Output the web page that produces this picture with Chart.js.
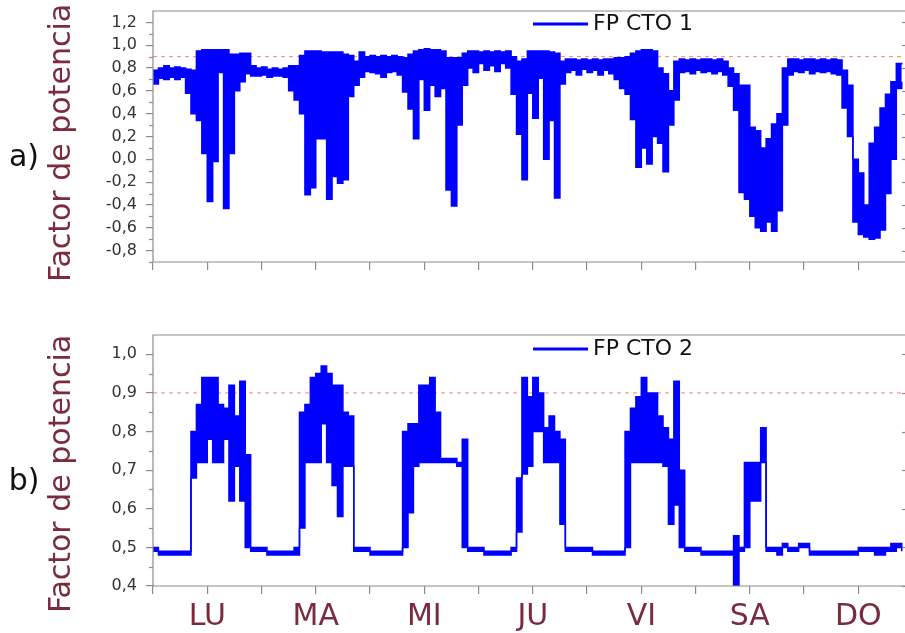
<!DOCTYPE html>
<html>
<head>
<meta charset="utf-8">
<script src="https://cdn.jsdelivr.net/npm/chart.js@4.4.1/dist/chart.umd.min.js"></script>
<style>
  body { margin: 0; background: #fff; width: 905px; height: 633px; overflow: hidden; position: relative; }
  .panel { position: absolute; left: 0; width: 905px; }
  #panelA { top: 0; height: 300px; }
  #panelB { top: 320px; height: 313px; }
</style>
</head>
<body>
<div class="panel" id="panelA"><canvas id="chartA"></canvas></div>
<div class="panel" id="panelB"><canvas id="chartB"></canvas></div>
<script>
// one week of power factor, max and min inside every 0.05 day (72 min)
const stepDays = 0.05;

const cto1Hi = [
  0.78, 0.80, 0.82, 0.80, 0.81, 0.80, 0.79, 0.78, 0.95, 0.96,
  0.96, 0.96, 0.96, 0.96, 0.92, 0.92, 0.93, 0.93, 0.82, 0.80,
  0.81, 0.79, 0.80, 0.79, 0.80, 0.82, 0.82, 0.91, 0.95, 0.95,
  0.95, 0.94, 0.94, 0.94, 0.94, 0.92, 0.91, 0.86, 0.94, 0.90,
  0.91, 0.90, 0.91, 0.90, 0.91, 0.90, 0.89, 0.92, 0.95, 0.96,
  0.97, 0.96, 0.96, 0.95, 0.89, 0.89, 0.89, 0.93, 0.95, 0.95,
  0.94, 0.95, 0.94, 0.95, 0.94, 0.95, 0.90, 0.86, 0.88, 0.95,
  0.95, 0.95, 0.95, 0.94, 0.93, 0.86, 0.88, 0.88, 0.87, 0.88,
  0.87, 0.88, 0.87, 0.88, 0.88, 0.89, 0.89, 0.90, 0.93, 0.95,
  0.96, 0.96, 0.95, 0.80, 0.75, 0.60, 0.86, 0.88, 0.87, 0.88,
  0.87, 0.88, 0.88, 0.87, 0.88, 0.86, 0.80, 0.75, 0.65, 0.65,
  0.28, 0.25, 0.10, 0.18, 0.31, 0.40, 0.80, 0.88, 0.88, 0.87,
  0.88, 0.88, 0.87, 0.88, 0.87, 0.88, 0.87, 0.78, 0.65, 0.00,
  -0.12, -0.40, 0.14, 0.28, 0.45, 0.57, 0.68, 0.84, 0.83
];
const cto1Lo = [
  0.66, 0.71, 0.70, 0.72, 0.70, 0.72, 0.58, 0.40, 0.34, 0.05,
  -0.37, -0.02, 0.76, -0.43, 0.05, 0.60, 0.68, 0.75, 0.73, 0.73,
  0.74, 0.72, 0.73, 0.73, 0.72, 0.60, 0.52, 0.40, -0.31, -0.25,
  0.18, 0.18, -0.35, -0.15, -0.21, -0.18, 0.55, 0.65, 0.72, 0.77,
  0.76, 0.75, 0.72, 0.76, 0.77, 0.74, 0.59, 0.44, 0.18, 0.70,
  0.43, 0.65, 0.55, 0.62, -0.27, -0.41, 0.30, 0.65, 0.80, 0.76,
  0.84, 0.78, 0.82, 0.77, 0.84, 0.80, 0.57, 0.22, -0.18, 0.58,
  0.36, 0.71, 0.00, 0.34, -0.34, 0.66, 0.76, 0.78, 0.74, 0.79,
  0.76, 0.78, 0.74, 0.78, 0.75, 0.70, 0.62, 0.57, 0.35, -0.07,
  0.10, -0.04, 0.20, 0.14, -0.11, 0.30, 0.52, 0.76, 0.77, 0.75,
  0.78, 0.76, 0.77, 0.75, 0.77, 0.74, 0.64, 0.43, -0.29, -0.35,
  -0.50, -0.60, -0.63, -0.55, -0.63, -0.45, 0.30, 0.74, 0.77, 0.76,
  0.78, 0.75, 0.77, 0.76, 0.77, 0.75, 0.74, 0.45, 0.20, -0.55,
  -0.66, -0.68, -0.70, -0.69, -0.62, -0.30, 0.00, 0.62, 0.68
];

const cto2Hi = [
  0.50, 0.49, 0.49, 0.49, 0.49, 0.49, 0.49, 0.80, 0.87, 0.94,
  0.94, 0.94, 0.87, 0.86, 0.92, 0.84, 0.93, 0.74, 0.50, 0.50,
  0.50, 0.49, 0.49, 0.49, 0.49, 0.49, 0.50, 0.85, 0.87, 0.94,
  0.95, 0.97, 0.95, 0.92, 0.92, 0.85, 0.84, 0.50, 0.50, 0.50,
  0.49, 0.49, 0.49, 0.49, 0.49, 0.49, 0.80, 0.82, 0.82, 0.92,
  0.92, 0.94, 0.85, 0.73, 0.73, 0.73, 0.72, 0.78, 0.50, 0.50,
  0.50, 0.49, 0.49, 0.49, 0.49, 0.49, 0.50, 0.68, 0.94, 0.89,
  0.94, 0.90, 0.81, 0.84, 0.80, 0.78, 0.50, 0.50, 0.50, 0.50,
  0.50, 0.49, 0.49, 0.49, 0.49, 0.49, 0.49, 0.80, 0.86, 0.89,
  0.94, 0.90, 0.90, 0.84, 0.81, 0.78, 0.93, 0.70, 0.50, 0.50,
  0.50, 0.49, 0.49, 0.49, 0.49, 0.49, 0.49, 0.53, 0.50, 0.72,
  0.72, 0.72, 0.81, 0.50, 0.50, 0.50, 0.51, 0.50, 0.50, 0.51,
  0.51, 0.49, 0.49, 0.49, 0.49, 0.49, 0.49, 0.49, 0.49, 0.49,
  0.50, 0.50, 0.50, 0.50, 0.50, 0.50, 0.51, 0.51, 0.50
];
const cto2Lo = [
  0.49, 0.48, 0.48, 0.48, 0.48, 0.48, 0.48, 0.68, 0.72, 0.72,
  0.78, 0.72, 0.72, 0.78, 0.62, 0.71, 0.62, 0.50, 0.49, 0.49,
  0.49, 0.48, 0.48, 0.48, 0.48, 0.48, 0.48, 0.55, 0.72, 0.72,
  0.72, 0.82, 0.72, 0.66, 0.58, 0.71, 0.71, 0.49, 0.49, 0.49,
  0.48, 0.48, 0.48, 0.48, 0.48, 0.48, 0.50, 0.59, 0.71, 0.72,
  0.72, 0.72, 0.72, 0.72, 0.72, 0.72, 0.71, 0.50, 0.49, 0.49,
  0.49, 0.48, 0.48, 0.48, 0.48, 0.48, 0.49, 0.54, 0.69, 0.71,
  0.80, 0.80, 0.72, 0.72, 0.72, 0.56, 0.49, 0.49, 0.49, 0.49,
  0.49, 0.48, 0.48, 0.48, 0.48, 0.48, 0.48, 0.50, 0.72, 0.72,
  0.72, 0.72, 0.72, 0.72, 0.71, 0.56, 0.61, 0.50, 0.49, 0.49,
  0.49, 0.48, 0.48, 0.48, 0.48, 0.48, 0.48, 0.40, 0.49, 0.50,
  0.62, 0.62, 0.72, 0.49, 0.49, 0.48, 0.50, 0.49, 0.49, 0.50,
  0.50, 0.48, 0.48, 0.48, 0.48, 0.48, 0.48, 0.48, 0.48, 0.48,
  0.49, 0.49, 0.49, 0.48, 0.48, 0.49, 0.49, 0.50, 0.49
];

const dayLabels = ["LU", "MA", "MI", "JU", "VI", "SA", "DO"];
const xTicks = [0, 0.5, 1, 1.5, 2, 2.5, 3, 3.5, 4, 4.5, 5, 5.5, 6, 6.5];
const yTicksA = [-0.8, -0.6, -0.4, -0.2, 0, 0.2, 0.4, 0.6, 0.8, 1.0, 1.2];
const yMinorA = [-0.9, -0.7, -0.5, -0.3, -0.1, 0.1, 0.3, 0.5, 0.7, 0.9, 1.1];
const yTicksB = [0.4, 0.5, 0.6, 0.7, 0.8, 0.9, 1.0];
const yMinorB = [0.45, 0.55, 0.65, 0.75, 0.85, 0.95];
const fpTarget = 0.9;

const blue = "#0000ff";
const axisGray = "#8c8c8c";
const maroon = "#7a2c3c";
const font = "'DejaVu Sans', sans-serif";

const toPoints = (vals) => vals.map((v, i) => ({ x: i * stepDays, y: v }));
const fmt = (v) => v.toFixed(1).replace(".", ",");

const panelDecor = {
  id: "panelDecor",
  afterDraw(chart, args, opts) {
    const { ctx, chartArea: a } = chart;
    const y = chart.scales.y;
    ctx.save();
    // frame: the right edge sits just past the canvas
    ctx.strokeStyle = axisGray;
    ctx.lineWidth = 1.2;
    ctx.beginPath();
    ctx.moveTo(a.right, a.top);
    ctx.lineTo(a.left, a.top);
    ctx.lineTo(a.left, a.bottom);
    ctx.lineTo(a.right, a.bottom);
    ctx.stroke();
    opts.minor.forEach((v) => {
      const py = Math.round(y.getPixelForValue(v)) + 0.5;
      ctx.beginPath();
      ctx.moveTo(a.left - 4, py);
      ctx.lineTo(a.left, py);
      ctx.stroke();
    });
    opts.ticks.forEach((v) => {
      const py = Math.round(y.getPixelForValue(v)) + 0.5;
      ctx.beginPath();
      ctx.moveTo(a.right - 3, py);
      ctx.lineTo(a.right, py);
      ctx.stroke();
    });

    // legend entry
    ctx.strokeStyle = blue;
    ctx.lineWidth = 3;
    ctx.beginPath();
    ctx.moveTo(533, opts.legendY);
    ctx.lineTo(588, opts.legendY);
    ctx.stroke();
    ctx.fillStyle = "#111";
    ctx.font = "22px " + font;
    ctx.textBaseline = "middle";
    ctx.fillText(opts.legend, 593, opts.legendY);

    // panel letter
    ctx.font = "30px " + font;
    ctx.textAlign = "center";
    ctx.fillText(opts.letter, 24, opts.letterY);

    // axis title
    ctx.translate(62, opts.titleY);
    ctx.rotate(-Math.PI / 2);
    ctx.fillStyle = maroon;
    ctx.font = "30px " + font;
    ctx.fillText("Factor de potencia", 0, 0);
    ctx.restore();
  }
};

function makeChart(id, hi, lo, cfg) {
  return new Chart(document.getElementById(id), {
    type: "line",
    data: {
      datasets: [
        {
          label: cfg.legend,
          data: toPoints(hi),
          borderColor: blue,
          backgroundColor: blue,
          borderWidth: 1.5,
          pointRadius: 0,
          stepped: true,
          fill: "+1"
        },
        {
          label: cfg.legend + " min",
          data: toPoints(lo),
          borderColor: blue,
          borderWidth: 1.5,
          pointRadius: 0,
          stepped: true,
          fill: false
        },
        {
          label: "limite",
          data: [{ x: 0, y: fpTarget }, { x: 7, y: fpTarget }],
          borderColor: "#ff7f7f",
          borderWidth: 1,
          borderDash: [4, 4],
          pointRadius: 0,
          fill: false
        }
      ]
    },
    options: {
      responsive: true,
      maintainAspectRatio: false,
      animation: false,
      devicePixelRatio: 1,
      layout: { padding: { top: cfg.padTop, right: 0, left: 0, bottom: 0 } },
      plugins: {
        legend: { display: false },
        tooltip: { enabled: false },
        panelDecor: cfg
      },
      scales: {
        x: {
          type: "linear",
          min: 0,
          max: 6.93,
          afterBuildTicks: (s) => { s.ticks = xTicks.map((v) => ({ value: v })); },
          afterFit: (s) => { s.height = cfg.xHeight; s.paddingLeft = 0; s.paddingRight = 0; },
          border: { display: false },
          grid: { drawOnChartArea: false, tickLength: 8, color: axisGray, lineWidth: 1.2 },
          ticks: {
            display: cfg.showDays,
            autoSkip: false,
            maxRotation: 0,
            padding: 5,
            color: maroon,
            font: { family: font, size: 30 },
            callback: (v) => (v % 1 === 0.5 ? dayLabels[Math.floor(v)] : "")
          }
        },
        y: {
          min: cfg.yMin,
          max: cfg.yMax,
          afterBuildTicks: (s) => { s.ticks = cfg.ticks.map((v) => ({ value: v })); },
          afterFit: (s) => { s.width = 153; s.paddingTop = 0; s.paddingBottom = 0; },
          border: { display: false },
          grid: { drawOnChartArea: false, tickLength: 7, color: axisGray, lineWidth: 1.2 },
          ticks: {
            padding: 9,
            color: "#333",
            font: { family: font, size: 16 },
            callback: (v) => fmt(v)
          }
        }
      }
    },
    plugins: [panelDecor]
  });
}

makeChart("chartA", cto1Hi, cto1Lo, {
  legend: "FP CTO 1", letter: "a)", legendY: 24, letterY: 158, titleY: 143,
  ticks: yTicksA, minor: yMinorA, yMin: -0.9, yMax: 1.3,
  padTop: 11, xHeight: 38, showDays: false
});

makeChart("chartB", cto2Hi, cto2Lo, {
  legend: "FP CTO 2", letter: "b)", legendY: 29, letterY: 162, titleY: 154,
  ticks: yTicksB, minor: yMinorB, yMin: 0.4, yMax: 1.05,
  padTop: 15, xHeight: 47, showDays: true
});
</script>
</body>
</html>
